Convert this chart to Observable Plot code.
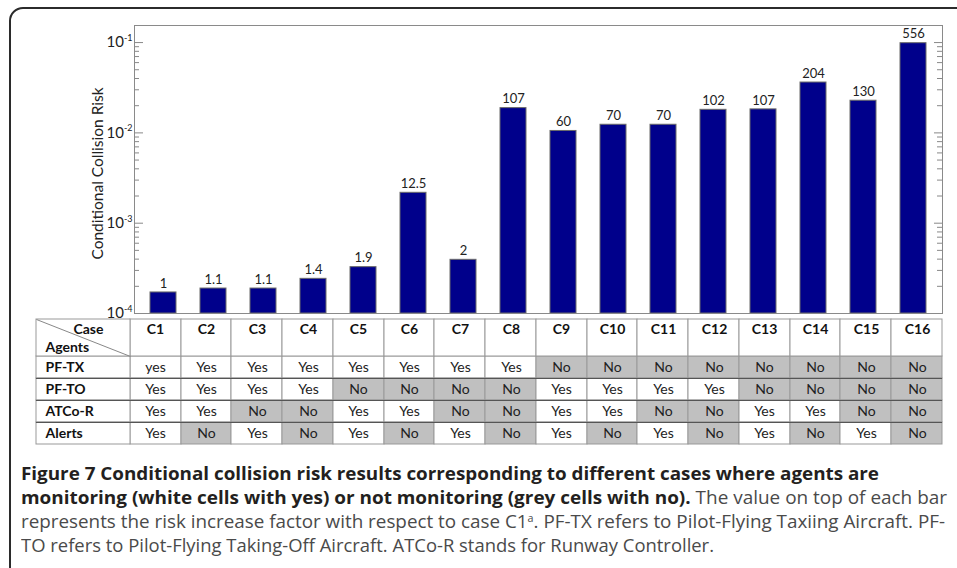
<!DOCTYPE html>
<html><head><meta charset="utf-8">
<script src="https://cdn.jsdelivr.net/npm/d3@7"></script>
<script src="https://cdn.jsdelivr.net/npm/@observablehq/plot@0.6"></script>
<style>
html,body{margin:0;padding:0;background:#fff;}
#root{position:relative;width:957px;height:568px;overflow:hidden;background:#fff;}
#border{position:absolute;left:9px;top:7px;width:1000px;height:640px;border:2px solid #2b2b2b;border-radius:14px;box-sizing:border-box;}
#chart{position:absolute;left:0;top:0;}
#table{position:absolute;left:0;top:318px;}
.cap{position:absolute;left:21px;white-space:nowrap;font-family:"Open Sans",sans-serif;font-size:17.5px;line-height:17.5px;color:#4a4a4a;transform-origin:0 0;}
.cap b{color:#231f20;font-weight:700;}
.cap sup{font-size:10px;line-height:0;vertical-align:6px;}
</style></head>
<body>
<div id="root">
  <div id="border"></div>
  <div id="chart"></div>
  <div id="table"></div>
  <div class="cap" id="l1" data-w="858" style="top:465px"><b>Figure 7 Conditional collision risk results corresponding to different cases where agents are</b></div>
  <div class="cap" id="l2" data-w="926" style="top:489px"><b>monitoring (white cells with yes) or not monitoring (grey cells with no).</b> The value on top of each bar</div>
  <div class="cap" id="l3" data-w="924" style="top:513px">represents the risk increase factor with respect to case C1<sup>a</sup>. PF-TX refers to Pilot-Flying Taxiing Aircraft. PF-</div>
  <div class="cap" id="l4" data-w="693" style="top:537px">TO refers to Pilot-Flying Taking-Off Aircraft. ATCo-R stands for Runway Controller.</div>
</div>
<script>
// ---- data ----
const cases = ["C1","C2","C3","C4","C5","C6","C7","C8","C9","C10","C11","C12","C13","C14","C15","C16"];
const risk = [1.71e-4, 1.89e-4, 1.89e-4, 2.42e-4, 3.26e-4, 2.17e-3, 3.93e-4, 1.88e-2, 1.05e-2, 1.23e-2, 1.23e-2, 1.80e-2, 1.82e-2, 3.61e-2, 2.27e-2, 9.84e-2];
const factors = ["1","1.1","1.1","1.4","1.9","12.5","2","107","60","70","70","102","107","204","130","556"];
const agents = ["PF-TX","PF-TO","ATCo-R","Alerts"];
const pfTX   = ["yes","Yes","Yes","Yes","Yes","Yes","Yes","Yes","No","No","No","No","No","No","No","No"];
const pfTO   = ["Yes","Yes","Yes","Yes","No","No","No","No","Yes","Yes","Yes","Yes","No","No","No","No"];
const atcoR  = ["Yes","Yes","No","No","Yes","Yes","No","No","Yes","Yes","No","No","Yes","Yes","No","No"];
const alerts = ["Yes","No","Yes","No","Yes","No","Yes","No","Yes","No","Yes","No","Yes","No","Yes","No"];
const yDomain = [1e-4, 0.1545];
const yLabel = "Conditional Collision Risk";
const cornerTop = "Case", cornerBottom = "Agents";

// ---- bar chart ----
const bars = cases.map((c, i) => ({case: c, risk: risk[i], factor: factors[i]}));
const W = 957, H = 319, mL = 134, mR = 15, mT = 25, mB = 6;
const frameW = W - mL - mR;
const allTicks = d3.scaleLog().domain(yDomain).ticks();
const majorTicks = allTicks.filter(t => Math.abs(Math.log10(t) - Math.round(Math.log10(t))) < 1e-9);
const minorTicks = allTicks.filter(t => !majorTicks.includes(t));

const chart = Plot.plot({
  width: W, height: H, marginLeft: mL, marginRight: mR, marginTop: mT, marginBottom: mB,
  style: {fontFamily: "Lato, sans-serif", background: "transparent", overflow: "visible", color: "#222"},
  x: {domain: cases, paddingInner: 0.485, paddingOuter: 0.2425, axis: null},
  y: {type: "log", domain: yDomain, axis: null},
  marks: [
    Plot.ruleY(minorTicks, {stroke: "#888", insetRight: frameW - 5}),
    Plot.ruleY(majorTicks, {stroke: "#888", insetRight: frameW - 9}),
    Plot.ruleY(minorTicks, {stroke: "#888", insetLeft: frameW - 5}),
    Plot.ruleY(majorTicks, {stroke: "#888", insetLeft: frameW - 8}),
    Plot.barY(bars, {x: "case", y1: yDomain[0], y2: "risk", fill: "#00008b", stroke: "#6a6a6a", strokeWidth: 1}),
    Plot.text(bars, {x: "case", y: "risk", text: "factor", dy: -9, fontSize: 13, fill: "#222"}),
    Plot.frame({stroke: "#8a8a8a"}),
    Plot.axisY({ticks: majorTicks, tickSize: 0, tickPadding: 2, fontSize: 15, label: null,
      tickFormat: d => "10|" + Math.round(Math.log10(d))}),
    Plot.text([yLabel], {text: d => d, frameAnchor: "left", textAnchor: "middle", rotate: -90, dx: -36, dy: 4, fontSize: 15.5, fill: "#222"})
  ]
});
document.getElementById("chart").append(chart);
// superscript exponents
d3.select(chart).selectAll("g[aria-label='y-axis tick label'] text").each(function() {
  const [b, e] = this.textContent.split("|");
  const t = d3.select(this);
  t.text(null);
  t.append("tspan").text(b);
  t.append("tspan").attr("font-size", 9).attr("dy", "-0.7em").text(e);
});

// ---- table ----
const AW = 1.85;  // agent column width, in case-column units
const HH = 1.68;  // header row height, in data-row units
const rowsVals = [pfTX, pfTO, atcoR, alerts];
const cells = [];
rowsVals.forEach((vals, r) => vals.forEach((v, c) => cells.push({agent: agents[r], case: cases[c], row: r, col: c, v})));
const headers = cases.map((c, i) => ({case: c, col: i}));
const agentRows = agents.map((a, r) => ({agent: a, row: r}));
const n = cases.length;

const table = Plot.plot({
  width: W, height: 127, marginLeft: 36, marginRight: 15, marginTop: 1, marginBottom: 1,
  style: {fontFamily: "Lato, sans-serif", background: "transparent", overflow: "visible", color: "#111"},
  x: {domain: [-AW, n], axis: null, round: true},
  y: {domain: [0, HH + agents.length], reverse: true, axis: null, round: true},
  marks: [
    Plot.rect(cells, {x1: d => d.col, x2: d => d.col + 1, y1: d => HH + d.row, y2: d => HH + d.row + 1,
      fill: d => d.v.toLowerCase() === "no" ? "#c0c0c0" : "#fff", stroke: "#999"}),
    Plot.rect(headers, {x1: d => d.col, x2: d => d.col + 1, y1: 0, y2: HH, fill: "#fff", stroke: "#999"}),
    Plot.rect(agentRows, {x1: -AW, x2: 0, y1: d => HH + d.row, y2: d => HH + d.row + 1, fill: "#fff", stroke: "#999"}),
    Plot.rect([0], {x1: -AW, x2: 0, y1: 0, y2: HH, fill: "#fff", stroke: "#999"}),
    Plot.link([0], {x1: -AW, y1: 0, x2: 0, y2: HH, stroke: "#888"}),
    Plot.ruleY([HH + 1, HH + 2, HH + 3], {x1: -AW, x2: n, stroke: "#555"}),
    Plot.text(cells, {x: d => d.col + 0.5, y: d => HH + d.row + 0.5, text: "v", fontSize: 14, fill: "#222"}),
    Plot.text(headers, {x: d => d.col + 0.5, y: 0.45, text: "case", fontSize: 14, fontWeight: "bold", fill: "#111"}),
    Plot.text(agentRows, {x: -AW + 0.18, y: d => HH + d.row + 0.5, text: "agent", textAnchor: "start", fontSize: 14, fontWeight: "bold", fill: "#111"}),
    Plot.text([cornerTop], {text: d => d, x: -0.53, y: 0.45, textAnchor: "end", fontSize: 14, fontWeight: "bold", fill: "#111"}),
    Plot.text([cornerBottom], {text: d => d, x: -AW + 0.18, y: 1.26, textAnchor: "start", fontSize: 14, fontWeight: "bold", fill: "#111"})
  ]
});
document.getElementById("table").append(table);

// ---- caption fitting ----
function fit() {
  document.querySelectorAll(".cap").forEach(el => {
    el.style.transform = "none";
    const w = el.getBoundingClientRect().width;
    const target = +el.dataset.w;
    el.style.transform = `scaleX(${target / w})`;
  });
}
fit();
if (document.fonts && document.fonts.ready) document.fonts.ready.then(fit);
</script>
</body></html>
